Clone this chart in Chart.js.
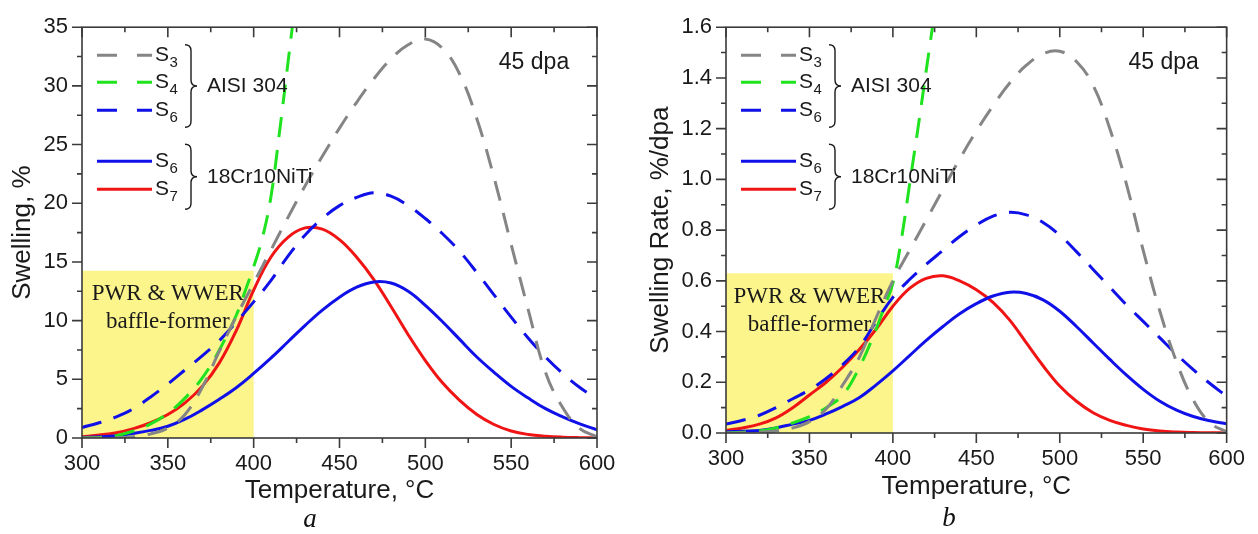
<!DOCTYPE html>
<html><head><meta charset="utf-8">
<script src="https://cdn.jsdelivr.net/npm/chart.js@4.4.1/dist/chart.umd.min.js"></script>
<style>
html,body{margin:0;padding:0;background:#fff;}
#wrap{position:relative;width:1258px;height:534px;overflow:hidden;background:#fff;}
canvas{position:absolute;top:0;}
#cA{left:0;} #cB{left:629px;}
.pl{position:absolute;font-family:"Liberation Serif","Times New Roman",serif;font-style:italic;font-size:27px;color:#111;transform:translate(-50%,-50%);line-height:1;}
</style></head><body>
<div id="wrap">
<canvas id="cA" width="629" height="534" style="width:629px;height:534px"></canvas>
<canvas id="cB" width="629" height="534" style="width:629px;height:534px"></canvas>
<div class="pl" style="left:310px;top:518px">a</div>
<div class="pl" style="left:949px;top:517px">b</div>
</div>
<script>
// ---------- data ----------
const temps = [300,310,320,330,340,350,360,370,380,390,400,410,420,430,440,450,460,470,480,490,500,510,520,530,540,550,560,570,580,590,600];
const tempsS4 = [300,310,320,330,340,350,360,370,380,390,395,400,405,410,415,420,425];

// panel a: swelling, %
const swellS3 = [0,0,0.02,0.1,0.35,0.85,2.0,4.3,7.4,10.4,13.2,16.0,18.8,21.5,24.0,26.4,28.6,30.6,32.3,33.5,34.0,33.2,31.0,27.2,22.2,16.5,10.9,5.6,2.6,0.8,0.1];
const swellS4 = [0,0.05,0.2,0.6,1.2,2.1,3.4,5.1,7.5,10.5,12.5,14.6,17.0,20.5,26.0,32.0,38.0];
const swellS6aisi = [0.9,1.3,1.8,2.5,3.5,4.6,5.8,7.0,8.3,9.9,11.6,13.4,15.5,17.3,18.7,19.8,20.5,20.9,20.6,19.8,18.7,17.4,15.9,14.1,12.2,10.3,8.5,6.9,5.5,4.3,3.3];
const swellS6 = [0.05,0.1,0.2,0.4,0.65,1.0,1.6,2.4,3.3,4.3,5.5,6.8,8.2,9.6,10.9,12.0,12.85,13.3,13.2,12.5,11.3,9.9,8.4,6.9,5.6,4.4,3.4,2.5,1.8,1.2,0.7];
const swellS7 = [0.1,0.25,0.45,0.8,1.3,2.0,3.0,4.4,6.4,9.2,12.6,15.4,17.1,17.9,17.8,16.9,15.4,13.5,11.2,8.8,6.6,4.7,3.2,2.0,1.15,0.6,0.3,0.15,0.07,0.03,0.01];

// panel b: swelling rate, %/dpa
const rateS3 = [0,0.001,0.003,0.008,0.02,0.045,0.095,0.19,0.3,0.455,0.6,0.72,0.84,0.96,1.08,1.19,1.29,1.38,1.45,1.495,1.505,1.465,1.37,1.2,0.98,0.72,0.48,0.28,0.13,0.04,0.005];
const rateS4 = [0,0.003,0.008,0.02,0.04,0.065,0.1,0.15,0.26,0.41,0.5,0.59,0.76,0.98,1.2,1.43,1.66];
const rateS6aisi = [0.035,0.05,0.07,0.1,0.135,0.17,0.215,0.27,0.34,0.44,0.535,0.605,0.665,0.72,0.775,0.82,0.855,0.87,0.86,0.83,0.78,0.715,0.645,0.575,0.505,0.44,0.375,0.31,0.25,0.195,0.145];
const rateS6 = [0.005,0.007,0.01,0.02,0.035,0.05,0.075,0.105,0.14,0.19,0.245,0.305,0.365,0.42,0.47,0.51,0.54,0.555,0.55,0.525,0.48,0.42,0.355,0.29,0.228,0.172,0.125,0.09,0.065,0.048,0.036];
const rateS7 = [0.01,0.02,0.035,0.06,0.1,0.15,0.2,0.26,0.33,0.41,0.5,0.57,0.61,0.62,0.6,0.565,0.515,0.445,0.355,0.265,0.185,0.125,0.08,0.05,0.03,0.016,0.008,0.004,0.002,0.001,0];

// ticks & labels
const xTicks = [300,350,400,450,500,550,600];
const swellTicks = [0,5,10,15,20,25,30,35];
const rateTicks = [0,0.2,0.4,0.6,0.8,1.0,1.2,1.4,1.6];
const legendLabels = ['S3','S4','S6','S6','S7'];
const groupLabels = ['AISI 304','18Cr10NiTi'];
const doseLabel = '45 dpa';
const zoneLabel = ['PWR & WWER','baffle-former'];
const zoneTemps = [300,400];
const zoneTopSwell = 14.25;
const zoneTopRate = 0.63;
const xTitle = 'Temperature, °C';
const yTitleA = 'Swelling, %';
const yTitleB = 'Swelling Rate, %/dpa';

// ---------- drawing ----------
const SANS = '"Liberation Sans", Arial, sans-serif';
const SERIF = '"Liberation Serif", "Times New Roman", serif';
const FRAME = '#3a3a3a';
const TXT = '#1a1a1a';

function pts(xs, ys){ return xs.map((x,i)=>({x:x, y:ys[i]})); }
function makeDatasets(s3,s4,s6a,s6,s7){
  const dash=[20,13];
  return [
    {label:'S3', data:pts(temps,s3), borderColor:'#858585', borderDash:dash},
    {label:'S4', data:pts(tempsS4,s4), borderColor:'#1ee31e', borderDash:dash},
    {label:'S6', data:pts(temps,s6a), borderColor:'#1010e8', borderDash:dash},
    {label:'S6', data:pts(temps,s6), borderColor:'#1010e8'},
    {label:'S7', data:pts(temps,s7), borderColor:'#f01414'}
  ].map(d=>Object.assign({borderWidth:3, pointRadius:0, pointHoverRadius:0, tension:0.4, fill:false}, d));
}

function minors(v){ const m=[]; for(let i=0;i<v.length-1;i++) m.push((v[i]+v[i+1])/2); return m; }

function brace(ctx, x, y0, y1, w){
  const ym=(y0+y1)/2, r=6, xm=x+w*0.5;
  ctx.beginPath();
  ctx.moveTo(x,y0);
  ctx.quadraticCurveTo(xm,y0,xm,y0+r);
  ctx.lineTo(xm,ym-r);
  ctx.quadraticCurveTo(xm,ym,x+w,ym);
  ctx.quadraticCurveTo(xm,ym,xm,ym+r);
  ctx.lineTo(xm,y1-r);
  ctx.quadraticCurveTo(xm,y1,x,y1);
  ctx.stroke();
}

const panelPlugin = {
  id:'panel',
  beforeDatasetsDraw(chart){
    const o = chart.options.plugins.panel;
    const {ctx, scales:{x,y}} = chart;
    ctx.save();
    const x0=x.getPixelForValue(zoneTemps[0]), x1=x.getPixelForValue(zoneTemps[1]);
    const yb=y.getPixelForValue(0), yt=y.getPixelForValue(o.zoneTop);
    ctx.fillStyle='#fbf58c';
    ctx.fillRect(x0,yt,x1-x0,yb-yt);
    ctx.fillStyle=TXT;
    ctx.font='23px '+SERIF;
    ctx.textAlign='center'; ctx.textBaseline='middle';
    const cx=(x0+x1)/2;
    ctx.fillText(zoneLabel[0],cx,yt+23.5);
    ctx.fillText(zoneLabel[1],cx,yt+51.5);
    ctx.restore();
  },
  afterDraw(chart){
    const {ctx, chartArea:a, scales:{x,y}} = chart;
    ctx.save();
    // frame
    ctx.strokeStyle=FRAME; ctx.lineWidth=1.6; ctx.setLineDash([]);
    ctx.strokeRect(a.left,a.top,a.right-a.left,a.bottom-a.top);
    // ticks
    const xv=x.ticks.map(t=>t.value), yv=y.ticks.map(t=>t.value);
    const drawX=(vals,len)=>{ vals.forEach(v=>{ const p=x.getPixelForValue(v);
      ctx.beginPath(); ctx.moveTo(p,a.bottom); ctx.lineTo(p,a.bottom+len);
      ctx.moveTo(p,a.top); ctx.lineTo(p,a.top+len); ctx.stroke(); }); };
    const drawY=(vals,len)=>{ vals.forEach(v=>{ const p=y.getPixelForValue(v);
      ctx.beginPath(); ctx.moveTo(a.left,p); ctx.lineTo(a.left-len,p);
      ctx.moveTo(a.right,p); ctx.lineTo(a.right-len,p); ctx.stroke(); }); };
    drawX(xv,10); drawX(minors(xv),5);
    drawY(yv,10); drawY(minors(yv),5);
    // legend
    const rows=[28,55,83,134,162];
    chart.data.datasets.forEach((ds,i)=>{
      const yy=a.top+rows[i];
      ctx.strokeStyle=ds.borderColor; ctx.lineWidth=3;
      ctx.setLineDash(ds.borderDash?[20,20]:[]);
      ctx.beginPath(); ctx.moveTo(a.left+15,yy); ctx.lineTo(a.left+70,yy); ctx.stroke();
      ctx.setLineDash([]);
      ctx.fillStyle=TXT; ctx.textAlign='left'; ctx.textBaseline='middle';
      ctx.font='21px '+SANS;
      const lab=legendLabels[i];
      ctx.fillText(lab[0],a.left+73,yy);
      const w=ctx.measureText(lab[0]).width;
      ctx.font='15px '+SANS;
      ctx.fillText(lab.slice(1),a.left+73+w+0.5,yy+8);
    });
    ctx.strokeStyle=TXT; ctx.lineWidth=1.4;
    brace(ctx,a.left+103,a.top+17.5,a.top+100,12);
    brace(ctx,a.left+103,a.top+117,a.top+182,12);
    ctx.fillStyle=TXT; ctx.font='21px '+SANS; ctx.textAlign='left'; ctx.textBaseline='middle';
    ctx.fillText(groupLabels[0],a.left+125,a.top+59);
    ctx.fillText(groupLabels[1],a.left+125,a.top+150);
    // dose
    ctx.font='23px '+SANS; ctx.textAlign='center';
    ctx.fillText(doseLabel,a.right-63,a.top+35);
    ctx.restore();
  }
};

function makeChart(id, sets, yTicks, yMax, yTitle, o){
  return new Chart(document.getElementById(id), {
    type:'line',
    data:{datasets:sets},
    plugins:[panelPlugin],
    options:{
      responsive:false, animation:false, devicePixelRatio:1,
      layout:{padding:{top:23,right:o.padRight,bottom:0,left:0}},
      plugins:{legend:{display:false}, tooltip:{enabled:false}, panel:{zoneTop:o.zoneTop}},
      scales:{
        x:{type:'linear', min:300, max:600,
          afterBuildTicks:s=>{ s.ticks=xTicks.map(v=>({value:v})); },
          afterFit:s=>{ s.height=o.xHeight; },
          grid:{display:false, drawTicks:false}, border:{display:false},
          ticks:{padding:13, color:TXT, font:{family:SANS,size:22}, maxRotation:0, autoSkip:false},
          title:{display:true, text:xTitle, color:TXT, font:{family:SANS,size:26}, padding:{top:0,bottom:o.xTitlePad}}
        },
        y:{type:'linear', min:0, max:yMax,
          afterBuildTicks:s=>{ s.ticks=yTicks.map(v=>({value:v})); },
          afterFit:s=>{ s.width=o.yWidth; },
          grid:{display:false, drawTicks:false}, border:{display:false},
          ticks:{padding:14, color:TXT, font:{family:SANS,size:22}, autoSkip:false, callback:o.fmt},
          title:{display:true, text:yTitle, color:TXT, font:{family:SANS,size:26}, padding:{top:o.yTitlePad,bottom:0}}
        }
      }
    }
  });
}

makeChart('cA', makeDatasets(swellS3,swellS4,swellS6aisi,swellS6,swellS7), swellTicks, 35, yTitleA,
  {padRight:32, xHeight:96, yWidth:82, xTitlePad:28, yTitlePad:7, zoneTop:zoneTopSwell, fmt:v=>String(v)});
makeChart('cB', makeDatasets(rateS3,rateS4,rateS6aisi,rateS6,rateS7), rateTicks, 1.6, yTitleB,
  {padRight:22, xHeight:101, yWidth:97, xTitlePad:32, yTitlePad:16, zoneTop:zoneTopRate, fmt:v=>Number(v).toFixed(1)});
</script>
</body></html>
